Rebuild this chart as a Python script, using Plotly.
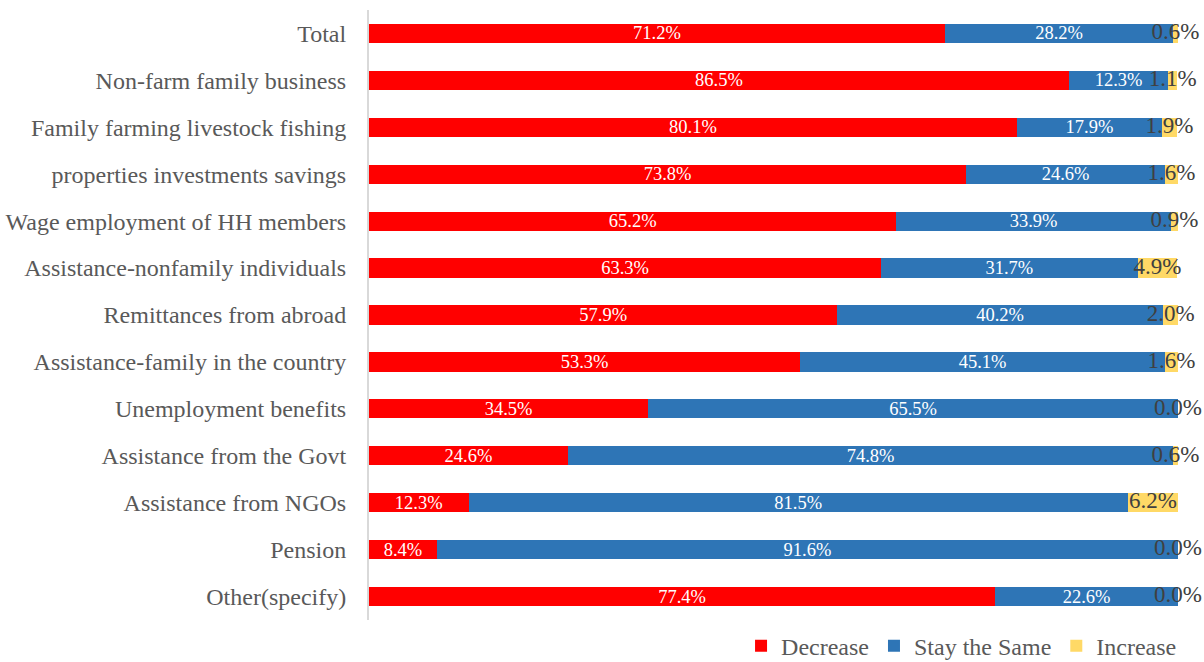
import plotly.graph_objects as go

categories = ["Total", "Non-farm family business", "Family farming livestock fishing",
              "properties investments savings", "Wage employment of HH members",
              "Assistance-nonfamily individuals", "Remittances from abroad",
              "Assistance-family in the country", "Unemployment benefits",
              "Assistance from the Govt", "Assistance from NGOs", "Pension", "Other(specify)"]
decrease = [71.2, 86.5, 80.1, 73.8, 65.2, 63.3, 57.9, 53.3, 34.5, 24.6, 12.3, 8.4, 77.4]
same = [28.2, 12.3, 17.9, 24.6, 33.9, 31.7, 40.2, 45.1, 65.5, 74.8, 81.5, 91.6, 22.6]
increase = [0.6, 1.1, 1.9, 1.6, 0.9, 4.9, 2.0, 1.6, 0.0, 0.6, 6.2, 0.0, 0.0]

FONT = "Liberation Serif, Times New Roman, serif"

fig = go.Figure()
fig.add_trace(go.Bar(y=categories, x=decrease, orientation="h", name="Decrease",
                     marker=dict(color="#FF0000", line=dict(width=0)),
                     text=[f"{v:.1f}%" for v in decrease], textposition="inside",
                     insidetextanchor="middle",
                     textfont=dict(color="white", size=18.5, family=FONT)))
fig.add_trace(go.Bar(y=categories, x=same, orientation="h", name="Stay the Same",
                     marker=dict(color="#2E75B6", line=dict(width=0)),
                     text=[f"{v:.1f}%" for v in same], textposition="inside",
                     insidetextanchor="middle",
                     textfont=dict(color="white", size=18.5, family=FONT)))
fig.add_trace(go.Bar(y=categories, x=increase, orientation="h", name="Increase",
                     marker=dict(color="#FFD966", line=dict(width=0))))
# labels for the small Increase segments
fig.add_trace(go.Scatter(y=categories,
                         x=[d + s + i / 2 for d, s, i in zip(decrease, same, increase)],
                         mode="text", text=[f"{v:.1f}%" for v in increase],
                         textposition="middle center",
                         textfont=dict(color="#404040", size=23, family=FONT),
                         showlegend=False, hoverinfo="skip", cliponaxis=False))

fig.update_layout(
    width=1204, height=662,
    barmode="stack", bargap=0.59,
    plot_bgcolor="white", paper_bgcolor="white",
    margin=dict(l=369, r=26, t=9.5, b=41.5, autoexpand=False),
    font=dict(family=FONT, color="#595959", size=24),
    legend=dict(orientation="h", xanchor="right", x=1.005, yanchor="middle", y=-0.043,
                font=dict(size=24, color="#595959", family=FONT),
                itemwidth=30, traceorder="normal", bgcolor="rgba(0,0,0,0)"),
    uniformtext=dict(mode="show", minsize=18),
)
fig.update_xaxes(range=[0, 100], showticklabels=False, showgrid=False, zeroline=False,
                 showline=False)
fig.update_yaxes(range=[len(categories) - 0.5, -0.5], showline=True, linecolor="#D9D9D9",
                 linewidth=2, ticks="", ticklabelstandoff=16, showgrid=False,
                 tickfont=dict(size=24, color="#595959", family=FONT))

fig.write_html("out.html", config={"displayModeBar": False},
               post_script="document.body.style.margin='0';document.body.style.overflow='hidden';")
